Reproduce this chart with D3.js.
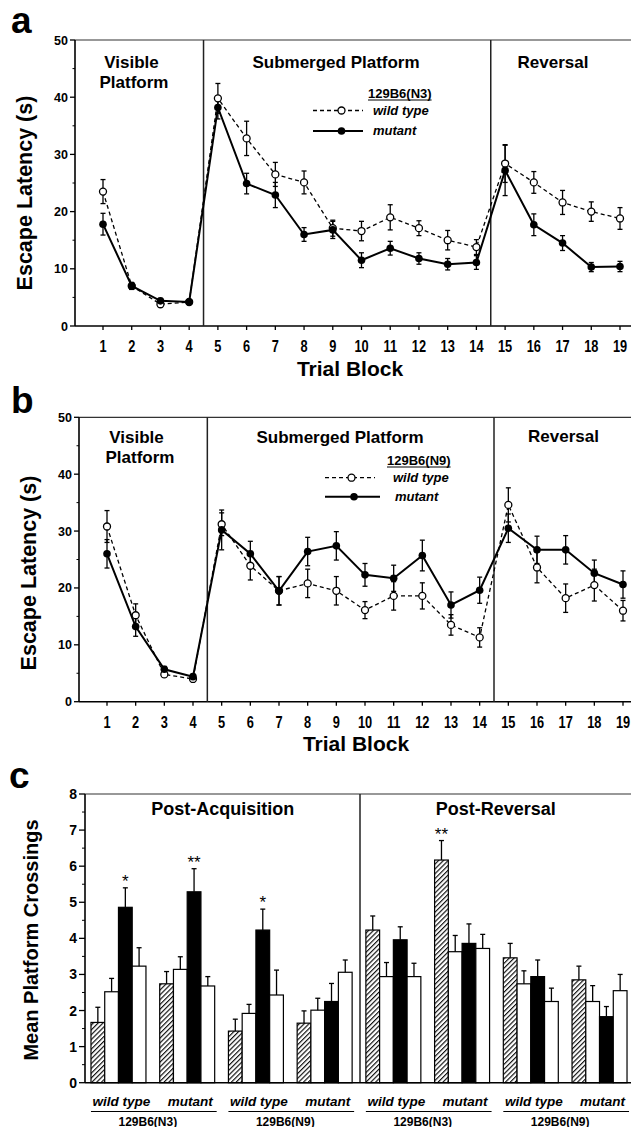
<!DOCTYPE html>
<html>
<head>
<meta charset="utf-8">
<script src="https://cdn.jsdelivr.net/npm/d3@7"></script>
<style>
body { margin: 0; background: #fff; }
svg { display: block; font-family: "Liberation Sans", Arial, Helvetica, sans-serif; }
</style>
</head>
<body>
<svg id="chart" width="631" height="1127"></svg>
<script>
// ---- data ----
var trialBlocks = [1, 2, 3, 4, 5, 6, 7, 8, 9, 10, 11, 12, 13, 14, 15, 16, 17, 18, 19]
var sectionBreaks = [4.5, 14.5]
var latencyTicks = [0, 10, 20, 30, 40, 50]
var latencyMinorTicks = [5, 15, 25, 35, 45]

// panel a : 129B6(N3)
var aWildMean = [23.5, 7.0, 3.8, 4.2, 39.8, 32.8, 26.5, 25.1, 17.1, 16.6, 19.0, 17.1, 15.0, 13.8, 28.4, 25.1, 21.6, 20.0, 18.8]
var aWildSE = [2.1, 0.6, 0.5, 0.4, 2.6, 3.0, 2.1, 2.0, 1.4, 1.7, 2.2, 1.3, 1.7, 1.3, 3.3, 1.9, 2.1, 1.7, 1.9]
var aMutMean = [17.8, 7.0, 4.4, 4.2, 38.2, 24.9, 22.9, 16.0, 16.8, 11.5, 13.6, 11.8, 10.8, 11.1, 27.2, 17.7, 14.5, 10.3, 10.4]
var aMutSE = [1.9, 0.6, 0.4, 0.4, 2.0, 1.8, 2.2, 1.2, 1.5, 1.3, 1.2, 1.0, 1.0, 1.2, 4.4, 1.9, 1.3, 0.8, 0.9]

// panel b : 129B6(N9)
var bWildMean = [30.8, 15.2, 4.8, 4.0, 31.2, 23.9, 19.5, 20.8, 19.5, 16.1, 18.6, 18.6, 13.5, 11.3, 34.6, 23.6, 18.2, 20.5, 16.0]
var bWildSE = [2.8, 2.0, 0.5, 0.4, 2.0, 2.5, 2.5, 2.5, 2.5, 1.5, 2.5, 2.3, 1.8, 1.7, 3.0, 2.7, 2.5, 2.8, 1.8]
var bMutMean = [26.0, 13.2, 5.7, 4.4, 30.2, 26.0, 19.5, 26.4, 27.4, 22.3, 21.7, 25.7, 17.0, 19.6, 30.5, 26.7, 26.7, 22.6, 20.6]
var bMutSE = [2.5, 1.7, 0.5, 0.4, 3.5, 2.2, 2.5, 2.5, 2.5, 2.0, 2.3, 2.7, 2.3, 2.3, 2.5, 2.4, 2.5, 2.3, 2.4]

// panel c : probe trials, 8 groups x 4 bars
var phases = ["Post-Acquisition", "Post-Reversal"]
var genotypes = ["wild type", "mutant", "wild type", "mutant", "wild type", "mutant", "wild type", "mutant"]
var strains = ["129B6(N3)", "129B6(N9)", "129B6(N3)", "129B6(N9)"]
var barKinds = ["hatch", "white", "black", "white"]
var crossingTicks = [0, 1, 2, 3, 4, 5, 6, 7, 8]
var crossingMinorTicks = [0.5, 1.5, 2.5, 3.5, 4.5, 5.5, 6.5, 7.5]
var crossingMean = [
    [1.67, 2.52, 4.86, 3.23],
    [2.74, 3.14, 5.29, 2.68],
    [1.43, 1.92, 4.23, 2.43],
    [1.65, 2.01, 2.25, 3.06],
    [4.23, 2.94, 3.96, 2.94],
    [6.17, 3.63, 3.86, 3.72],
    [3.46, 2.74, 2.94, 2.25],
    [2.85, 2.25, 1.83, 2.55]
]
var crossingSE = [
    [0.42, 0.37, 0.54, 0.51],
    [0.34, 0.35, 0.64, 0.26],
    [0.33, 0.25, 0.58, 0.69],
    [0.34, 0.33, 0.50, 0.34],
    [0.39, 0.39, 0.36, 0.37],
    [0.54, 0.45, 0.54, 0.39],
    [0.40, 0.36, 0.46, 0.37],
    [0.38, 0.44, 0.28, 0.45]
]
var crossingStars = [
    ["", "", "*", ""],
    ["", "", "**", ""],
    ["", "", "*", ""],
    ["", "", "", ""],
    ["", "", "", ""],
    ["**", "", "", ""],
    ["", "", "", ""],
    ["", "", "", ""]
]

var W = 631
var svg = d3.select("#chart")

function label(g, x, y, str, size, anchor, opts) {
    opts = opts || {}
    var t = g.append("text")
        .attr("transform", "translate(" + x + "," + y + ")" + (opts.rotate ? " rotate(" + opts.rotate + ")" : "") + (opts.sx ? " scale(" + opts.sx + ",1)" : ""))
        .attr("text-anchor", anchor || "start")
        .attr("font-size", size)
        .attr("font-weight", opts.weight || "bold")
        .attr("fill", "#000")
        .text(str)
    if (opts.italic) t.attr("font-style", "italic")
    return t
}

function drawLatency(p, wildMean, wildSE, mutMean, mutSE) {
    var x = d3.scaleLinear().domain([1, 19]).range([p.x1, p.x19])
    var y = d3.scaleLinear().domain([0, 50]).range([p.y0, p.yTop])
    var g = svg.append("g")

    // frame
    g.append("line").attr("x1", p.left).attr("x2", W).attr("y1", y(50)).attr("y2", y(50))
        .attr("stroke", "#333").attr("stroke-width", 1.2)
    g.append("line").attr("x1", p.left).attr("x2", W).attr("y1", y(0)).attr("y2", y(0))
        .attr("stroke", "#000").attr("stroke-width", 1.6)
    g.append("line").attr("x1", p.left).attr("x2", p.left).attr("y1", y(0)).attr("y2", y(50))
        .attr("stroke", "#000").attr("stroke-width", 1.6)

    latencyTicks.forEach(function(v) {
        g.append("line").attr("x1", p.left - 5).attr("x2", p.left).attr("y1", y(v)).attr("y2", y(v))
            .attr("stroke", "#000").attr("stroke-width", 1.3)
        label(g, p.left - 7, y(v) + 4.5, v, 12.5, "end")
    })
    latencyMinorTicks.forEach(function(v) {
        g.append("line").attr("x1", p.left - 2.5).attr("x2", p.left).attr("y1", y(v)).attr("y2", y(v))
            .attr("stroke", "#000").attr("stroke-width", 1)
    })
    trialBlocks.forEach(function(t) {
        g.append("line").attr("x1", x(t)).attr("x2", x(t)).attr("y1", y(0)).attr("y2", y(0) + 4)
            .attr("stroke", "#000").attr("stroke-width", 1.3)
        label(g, x(t), p.tickBase, t, 16, "middle", { sx: 0.8 })
    })

    sectionBreaks.forEach(function(b) {
        g.append("line").attr("x1", x(b)).attr("x2", x(b)).attr("y1", y(50)).attr("y2", y(0))
            .attr("stroke", "#222").attr("stroke-width", 1.5)
    })

    p.titles.forEach(function(t) {
        label(g, t[1], t[2], t[0], 17, "middle")
    })

    // series
    var line = d3.line().x(function(d, i) { return x(trialBlocks[i]) }).y(function(d) { return y(d) })
    g.append("path").attr("d", line(wildMean)).attr("fill", "none").attr("stroke", "#000")
        .attr("stroke-width", 1.3).attr("stroke-dasharray", "4,3")
    g.append("path").attr("d", line(mutMean)).attr("fill", "none").attr("stroke", "#000")
        .attr("stroke-width", 2)

    function errBars(mean, se) {
        mean.forEach(function(m, i) {
            var cx = x(trialBlocks[i]), lo = y(m - se[i]), hi = y(m + se[i])
            g.append("line").attr("x1", cx).attr("x2", cx).attr("y1", lo).attr("y2", hi)
                .attr("stroke", "#000").attr("stroke-width", 1.3)
            ;[lo, hi].forEach(function(yy) {
                g.append("line").attr("x1", cx - 2.5).attr("x2", cx + 2.5).attr("y1", yy).attr("y2", yy)
                    .attr("stroke", "#000").attr("stroke-width", 1.3)
            })
        })
    }
    errBars(wildMean, wildSE)
    errBars(mutMean, mutSE)

    g.selectAll(".wt").data(wildMean).enter().append("circle")
        .attr("cx", function(d, i) { return x(trialBlocks[i]) }).attr("cy", function(d) { return y(d) })
        .attr("r", 3.5).attr("fill", "#fff").attr("stroke", "#000").attr("stroke-width", 1.3)
    g.selectAll(".mut").data(mutMean).enter().append("circle")
        .attr("cx", function(d, i) { return x(trialBlocks[i]) }).attr("cy", function(d) { return y(d) })
        .attr("r", 3.8).attr("fill", "#000")

    // legend
    var L = p.legend
    var tt = label(g, L.titleX, L.titleY, L.title, 13, "start")
    var tw = tt.node().getComputedTextLength()
    g.append("line").attr("x1", L.titleX).attr("x2", L.titleX + tw).attr("y1", L.titleY + 2).attr("y2", L.titleY + 2)
        .attr("stroke", "#000").attr("stroke-width", 1)
    g.append("line").attr("x1", L.lx0).attr("x2", L.lx1).attr("y1", L.wy).attr("y2", L.wy)
        .attr("stroke", "#000").attr("stroke-width", 1.3).attr("stroke-dasharray", "4,3")
    g.append("circle").attr("cx", L.cx).attr("cy", L.wy).attr("r", 3.5).attr("fill", "#fff")
        .attr("stroke", "#000").attr("stroke-width", 1.3)
    g.append("line").attr("x1", L.lx0).attr("x2", L.lx1 + L.mExtra).attr("y1", L.my).attr("y2", L.my)
        .attr("stroke", "#000").attr("stroke-width", 2)
    g.append("circle").attr("cx", L.cx + L.mExtra / 2).attr("cy", L.my).attr("r", 3.8).attr("fill", "#000")
    label(g, L.textX, L.wy + 4, "wild type", 13, "start", { italic: true })
    label(g, L.textX + L.mShift, L.my + 4, "mutant", 13, "start", { italic: true })

    // letters & axis titles
    label(g, p.letterX, p.letterY, p.letter, 37, "start")
    label(g, p.xTitleX, p.xTitleY, "Trial Block", 21, "middle")
    label(g, p.yTitleX, p.yTitleY, "Escape Latency (s)", 21.5, "middle", { rotate: -90 })
}

drawLatency({
    left: 75, x1: 103, x19: 620, y0: 326, yTop: 40, tickBase: 352,
    titles: [["Visible", 131.5, 67.5], ["Platform", 134, 87.5], ["Submerged Platform", 336, 68], ["Reversal", 553, 68]],
    legend: { title: "129B6(N3)", titleX: 368, titleY: 98, lx0: 313, lx1: 363, cx: 341.5, wy: 110.5, my: 131, mExtra: 0, textX: 373, mShift: 0 },
    letter: "a", letterX: 11, letterY: 33,
    xTitleX: 350, xTitleY: 376, yTitleX: 32, yTitleY: 193
}, aWildMean, aWildSE, aMutMean, aMutSE)

drawLatency({
    left: 79, x1: 107, x19: 623, y0: 701.7, yTop: 417.3, tickBase: 728,
    titles: [["Visible", 136.5, 443], ["Platform", 140, 463], ["Submerged Platform", 340, 443], ["Reversal", 563.5, 442]],
    legend: { title: "129B6(N9)", titleX: 387, titleY: 465, lx0: 325, lx1: 375, cx: 351.5, wy: 477.7, my: 496.7, mExtra: 5, textX: 393, mShift: 2 },
    letter: "b", letterX: 11, letterY: 413,
    xTitleX: 356, xTitleY: 751, yTitleX: 36, yTitleY: 573
}, bWildMean, bWildSE, bMutMean, bMutSE)

// ---- panel c ----
;(function() {
    var left = 85
    var y = d3.scaleLinear().domain([0, 8]).range([1082.7, 794])
    var xg = d3.scaleBand().domain(d3.range(crossingMean.length)).range([left, 633])
        .paddingInner(0.2).paddingOuter(0.087)
    var xb = d3.scaleBand().domain(d3.range(barKinds.length)).range([0, xg.bandwidth()])
    var g = svg.append("g")

    var defs = svg.append("defs")
    var pat = defs.append("pattern").attr("id", "hatch").attr("patternUnits", "userSpaceOnUse")
        .attr("width", 3.4).attr("height", 3.4).attr("patternTransform", "rotate(45)")
    pat.append("rect").attr("width", 3.4).attr("height", 3.4).attr("fill", "#fff")
    pat.append("line").attr("x1", 0.6).attr("x2", 0.6).attr("y1", 0).attr("y2", 3.4)
        .attr("stroke", "#000").attr("stroke-width", 1.1)

    g.append("line").attr("x1", left).attr("x2", W).attr("y1", y(8)).attr("y2", y(8))
        .attr("stroke", "#333").attr("stroke-width", 1.2)
    var split = (xg(3) + xg.bandwidth() + xg(4)) / 2 + 1
    g.append("line").attr("x1", split).attr("x2", split).attr("y1", y(8)).attr("y2", y(0))
        .attr("stroke", "#222").attr("stroke-width", 1.5)

    crossingTicks.forEach(function(v) {
        g.append("line").attr("x1", left - 6).attr("x2", left).attr("y1", y(v)).attr("y2", y(v))
            .attr("stroke", "#000").attr("stroke-width", 1.3)
        label(g, left - 8, y(v) + 5, v, 14, "end")
    })
    crossingMinorTicks.forEach(function(v) {
        g.append("line").attr("x1", left - 3).attr("x2", left).attr("y1", y(v)).attr("y2", y(v))
            .attr("stroke", "#000").attr("stroke-width", 1)
    })

    crossingMean.forEach(function(row, gi) {
        row.forEach(function(m, bi) {
            var bx = xg(gi) + xb(bi), bw = xb.bandwidth(), cx = bx + bw / 2
            var kind = barKinds[bi]
            g.append("rect").attr("x", bx).attr("y", y(m)).attr("width", bw).attr("height", y(0) - y(m))
                .attr("fill", kind == "hatch" ? "url(#hatch)" : kind == "black" ? "#000" : "#fff")
                .attr("stroke", "#000").attr("stroke-width", 1.2)
            var top = y(m + crossingSE[gi][bi])
            g.append("line").attr("x1", cx).attr("x2", cx).attr("y1", y(m)).attr("y2", top)
                .attr("stroke", "#000").attr("stroke-width", 1.3)
            g.append("line").attr("x1", cx - 2.5).attr("x2", cx + 2.5).attr("y1", top).attr("y2", top)
                .attr("stroke", "#000").attr("stroke-width", 1.3)
            if (crossingStars[gi][bi]) label(g, cx, top - 1, crossingStars[gi][bi], 17, "middle", { weight: "normal" })
        })
        label(g, xg(gi) + xg.bandwidth() / 2 + 3, 1106, genotypes[gi], 13.5, "middle", { italic: true })
    })

    strains.forEach(function(s, i) {
        var x0 = xg(i * 2), x1 = xg(i * 2 + 1) + xg.bandwidth() + 2
        g.append("line").attr("x1", x0).attr("x2", x1).attr("y1", 1111.5).attr("y2", 1111.5)
            .attr("stroke", "#000").attr("stroke-width", 1.2)
        label(g, (x0 + x1) / 2 - 6, 1125.5, s, 12, "middle")
    })

    label(g, (xg(0) + xg(1) + xg.bandwidth()) / 2 + 70, 815, phases[0], 18, "middle")
    label(g, (xg(4) + xg(5) + xg.bandwidth()) / 2 + 68, 815, phases[1], 18, "middle")

    g.append("line").attr("x1", left).attr("x2", W).attr("y1", y(0)).attr("y2", y(0))
        .attr("stroke", "#000").attr("stroke-width", 1.6)
    g.append("line").attr("x1", left).attr("x2", left).attr("y1", y(0)).attr("y2", y(8))
        .attr("stroke", "#000").attr("stroke-width", 1.6)

    label(g, 9, 788, "c", 37, "start")
    label(g, 38, 940, "Mean Platform Crossings", 20, "middle", { rotate: -90 })
})()
</script>
</body>
</html>
